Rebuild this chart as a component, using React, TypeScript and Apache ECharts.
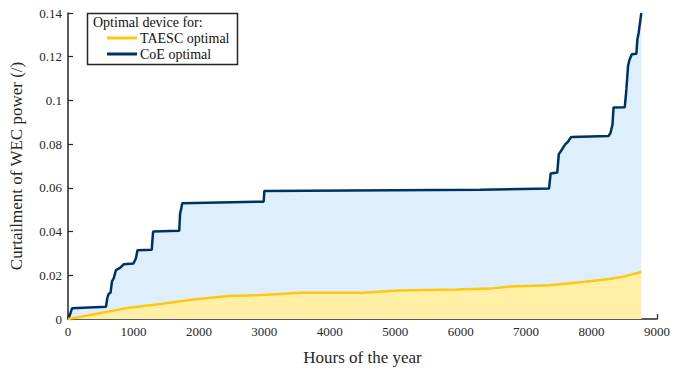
import React, { useEffect, useRef } from "react";
import * as echarts from "echarts";

// Hours of the year and curtailment for the CoE-optimal device
const coeHours = [
  0, 30, 61, 580, 600, 620, 650, 672, 700, 733, 800, 850, 1000, 1037, 1062, 1280,
  1300, 1700, 1712, 1730, 1745, 2990, 3000, 6300, 7350, 7375, 7476, 7500, 7520,
  7600, 7640, 7689, 8260, 8290, 8320, 8336, 8508, 8533, 8558, 8580, 8615, 8685,
  8700, 8720, 8745, 8760,
];
const coeValues = [
  0, 0.002, 0.0049, 0.0056, 0.0095, 0.0115, 0.012, 0.0172, 0.0187, 0.0224, 0.0235,
  0.025, 0.0254, 0.0277, 0.0314, 0.0317, 0.04, 0.0404, 0.048, 0.0505, 0.053, 0.0537,
  0.0586, 0.0591, 0.0597, 0.0666, 0.067, 0.0755, 0.0763, 0.08, 0.0811, 0.0833,
  0.0837, 0.0852, 0.089, 0.0968, 0.0969, 0.1054, 0.1159, 0.1186, 0.1211, 0.1214,
  0.1279, 0.131, 0.1365, 0.14,
];

// Hours of the year and curtailment for the TAESC-optimal device
const taescHours = [
  0, 200, 481, 936, 1442, 1947, 2453, 2959, 3560, 4500, 5033, 5944, 6450, 6753,
  7360, 7900, 8300, 8500, 8760,
];
const taescValues = [
  0, 0.001, 0.0026, 0.0052, 0.007, 0.009, 0.0105, 0.011, 0.012, 0.012, 0.013,
  0.0135, 0.0139, 0.0149, 0.0154, 0.017, 0.0184, 0.0195, 0.0215,
];

const seriesNames = ["TAESC optimal", "CoE optimal"];
const legendTitle = "Optimal device for:";
const xTitle = "Hours of the year";
const yTitle = "Curtailment of WEC power (/)";

const FONT = "serif";
const INK = "#262626";
const NAVY = "#00325f";
const GOLD = "#ffc612";

const pairs = (xs: number[], ys: number[]) => xs.map((x, i) => [x, ys[i]]);

export default function App() {
  const ref = useRef<HTMLDivElement>(null);

  useEffect(() => {
    if (!ref.current) return;
    const chart = echarts.init(ref.current, undefined, { renderer: "svg" });
    chart.setOption({
      animation: false,
      backgroundColor: "#ffffff",
      textStyle: { fontFamily: FONT },
      grid: { left: 65, right: 15, top: 13, bottom: 46 },
      xAxis: {
        type: "value",
        min: 0,
        max: 9000,
        interval: 1000,
        name: xTitle,
        nameLocation: "middle",
        nameGap: 30,
        nameTextStyle: { fontFamily: FONT, fontSize: 17, color: INK },
        axisLine: { show: true, onZero: false, lineStyle: { color: INK, width: 1.5 } },
        axisTick: { show: true, inside: true, length: 5, lineStyle: { color: INK, width: 1.2 } },
        axisLabel: {
          fontFamily: FONT,
          fontSize: 13,
          color: INK,
          margin: 6,
          formatter: (v: number) => String(v),
        },
        splitLine: { show: false },
      },
      yAxis: {
        type: "value",
        min: 0,
        max: 0.14,
        interval: 0.02,
        name: yTitle,
        nameLocation: "middle",
        nameGap: 43,
        nameTextStyle: { fontFamily: FONT, fontSize: 17, color: INK },
        axisLine: { show: true, lineStyle: { color: INK, width: 1.5 } },
        axisTick: { show: true, inside: true, length: 5, lineStyle: { color: INK, width: 1.2 } },
        axisLabel: { fontFamily: FONT, fontSize: 13, color: INK, margin: 6 },
        splitLine: { show: false },
      },
      legend: {
        data: seriesNames,
        orient: "vertical",
        left: 107,
        top: 31,
        padding: 0,
        itemGap: 2,
        itemWidth: 30,
        itemHeight: 3,
        icon: "rect",
        z: 20,
        textStyle: { fontFamily: FONT, fontSize: 14, color: "#111", padding: [0, 0, 0, -2] },
      },
      graphic: [
        {
          type: "rect",
          z: 15,
          shape: { x: 87.5, y: 13.5, width: 150, height: 51 },
          style: { fill: "#ffffff", stroke: INK, lineWidth: 1.5 },
        },
        {
          type: "text",
          z: 20,
          x: 93,
          y: 15,
          style: { text: legendTitle, fontFamily: FONT, fontSize: 14, fill: "#111" },
        },
      ],
      series: [
        {
          name: seriesNames[1],
          type: "line",
          data: pairs(coeHours, coeValues),
          showSymbol: false,
          z: 3,
          lineStyle: { color: NAVY, width: 2.5 },
          itemStyle: { color: NAVY },
          areaStyle: { color: "#deeefd", opacity: 1 },
        },
        {
          name: seriesNames[0],
          type: "line",
          data: pairs(taescHours, taescValues),
          showSymbol: false,
          z: 4,
          lineStyle: { color: GOLD, width: 2.5 },
          itemStyle: { color: GOLD },
          areaStyle: { color: "#fff0a6", opacity: 1 },
        },
      ],
    });
    return () => chart.dispose();
  }, []);

  return (
    <div
      ref={ref}
      style={{ position: "fixed", left: 0, top: 0, width: 673, height: 371 }}
    />
  );
}
